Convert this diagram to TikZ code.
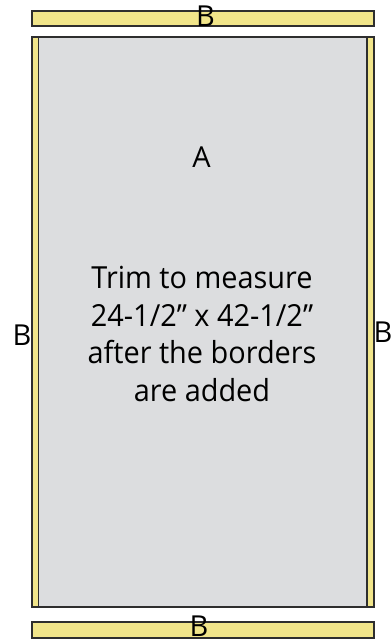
\documentclass[tikz,border=0pt]{standalone}
\usepackage{fontspec}
\setmainfont{Open Sans}
\newfontfamily\bodyfont[FakeStretch=0.95]{Open Sans}
\definecolor{borderyellow}{HTML}{F1E58A}
\definecolor{centergray}{HTML}{DCDDDF}
\definecolor{edgegray}{HTML}{2E2E2E}
\begin{document}
\begin{tikzpicture}[x=1bp,y=-1bp,
  strip/.style={draw=edgegray,line width=1.2bp,fill=borderyellow},
  panel/.style={draw=edgegray,line width=1.2bp,fill=centergray},
  lbl/.style={inner sep=0pt,anchor=base,font=\fontsize{29}{34}\selectfont},
  body/.style={inner sep=0pt,align=center,font=\bodyfont\fontsize{30.5}{38}\selectfont}]
\useasboundingbox (0,0) rectangle (390,639);
\path[panel] (32,37) rectangle (374,607);
\path[strip] (32,37) rectangle (38.5,607);
\path[strip] (367,37) rectangle (374,607);
\path[strip] (32,11) rectangle (374,26);
\path[strip] (32,622) rectangle (374,638);
\node[lbl] (btop) at (205.5,27) {B};
\node[lbl] (bbot) at (199,636.7) {B};
\node[lbl] (bleft) at (22,345) {B};
\node[lbl] (bright) at (383,342.7) {B};
\node[lbl] (a) at (201.5,167.7) {A};
\node[body] (trim) at (202,334) {Trim to measure\\24-1/2{\char"201D} x 42-1/2{\char"201D}\\after the borders\\are added};
\end{tikzpicture}
\end{document}
